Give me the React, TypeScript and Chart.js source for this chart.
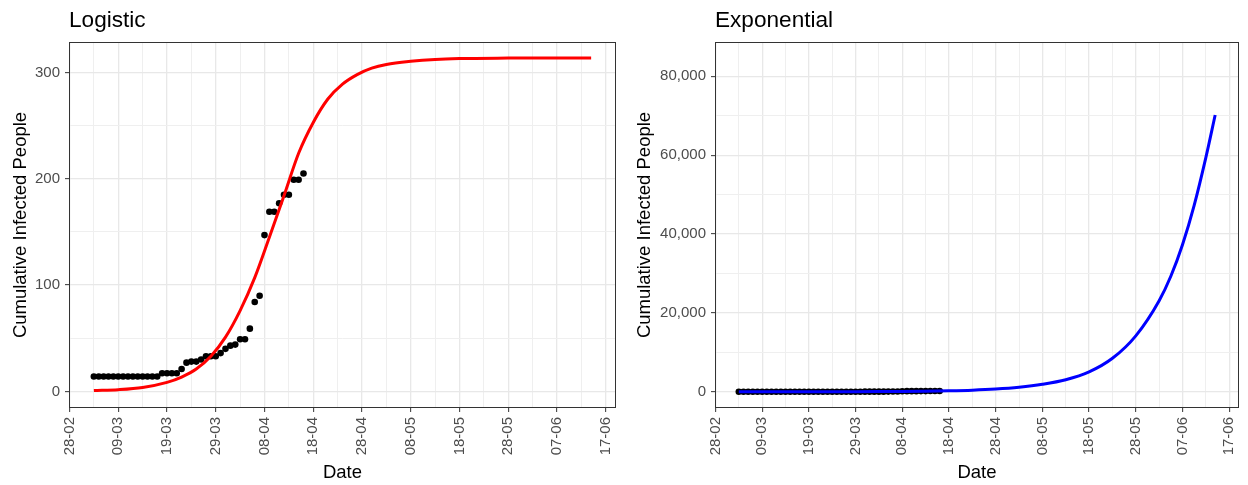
import React, { useEffect, useRef } from 'react';
import { Chart, registerables } from 'chart.js';

Chart.register(...registerables);

const FONT = "'Liberation Sans', Arial, sans-serif";

// x axis: days since 28-02-2020
const xMajorDays = [0, 10, 20, 30, 40, 50, 60, 70, 80, 90, 100, 110];
const xMinorDays = [5, 15, 25, 35, 45, 55, 65, 75, 85, 95, 105];
const xTickLabels = ['28-02', '09-03', '19-03', '29-03', '08-04', '18-04', '28-04', '08-05', '18-05', '28-05', '07-06', '17-06'];

// observed cumulative infected people (day index, value)
const obsDays = [5, 6, 7, 8, 9, 10, 11, 12, 13, 14, 15, 16, 17, 18, 19, 20, 21, 22, 23, 24, 25, 26, 27, 28, 29, 30, 31, 32, 33, 34, 35, 36, 37, 38, 39, 40, 41, 42, 43, 44, 45, 46, 47, 48];
const obsCases = [14, 14, 14, 14, 14, 14, 14, 14, 14, 14, 14, 14, 14, 14, 17, 17, 17, 17, 21, 27, 28, 28, 30, 33, 33, 33, 36, 40, 43, 44, 49, 49, 59, 84, 90, 147, 169, 169, 177, 185, 185, 199, 199, 205];

// logistic fit curve
const logisticDays = [5, 10, 15, 20, 23, 26, 29, 32, 35, 38, 41, 44, 47, 50, 53, 56, 59, 62, 65, 70, 75, 80, 90, 100, 107];
const logisticFit = [0.7, 1.6, 3.7, 8.5, 13.5, 21, 33, 51, 76, 107, 145, 184, 224, 253, 275, 289, 298, 304, 307.5, 310.5, 312.3, 313.1, 313.5, 313.6, 313.6];

// exponential fit curve
const expDays = [5, 10, 15, 20, 25, 30, 35, 40, 45, 50, 55, 60, 65, 70, 75, 80, 85, 90, 95, 97.5, 100, 102.5, 105, 107];
const expFit = [3, 5, 9, 14, 23, 37, 60, 98, 160, 260, 420, 700, 1160, 1900, 3050, 5050, 8500, 14200, 23100, 29300, 37300, 47300, 59400, 70200];

// y axes
const logisticYMajor = [0, 100, 200, 300];
const logisticYMinor = [50, 150, 250];
const expYMajor = [0, 20000, 40000, 60000, 80000];
const expYMinor = [10000, 30000, 50000, 70000];

function makeChart(
  canvas: HTMLCanvasElement,
  title: string,
  lineColor: string,
  lineDays: number[],
  lineValues: number[],
  yMajor: number[],
  yMinor: number[],
  yMin: number,
  yMax: number,
  yWidth: number,
  rightPad: number,
  yFormat: (v: number) => string
) {
  const xAll = [...xMajorDays, ...xMinorDays].sort((a, b) => a - b);
  const yAll = [...yMajor, ...yMinor].sort((a, b) => a - b);
  const isXMajor = (v: number) => xMajorDays.includes(v);
  const isYMajor = (v: number) => yMajor.includes(v);

  const ggPlugin = {
    id: 'ggDecor',
    afterDraw(chart: any) {
      const { ctx, chartArea } = chart;
      ctx.save();
      ctx.strokeStyle = '#333333';
      ctx.lineWidth = 1;
      ctx.strokeRect(chartArea.left + 0.5, chartArea.top + 0.5, chartArea.right - chartArea.left - 1, chartArea.bottom - chartArea.top - 1);
      ctx.font = `22.6px ${FONT}`;
      ctx.fillStyle = '#000000';
      ctx.textBaseline = 'alphabetic';
      ctx.textAlign = 'left';
      ctx.fillText(title, chartArea.left, 27);
      ctx.restore();
    },
  };

  return new Chart(canvas, {
    type: 'scatter',
    data: {
      datasets: [
        {
          type: 'line',
          data: lineDays.map((d, i) => ({ x: d, y: lineValues[i] })),
          borderColor: lineColor,
          backgroundColor: lineColor,
          borderWidth: 3,
          pointRadius: 0,
          cubicInterpolationMode: 'monotone',
          fill: false,
        } as any,
        {
          type: 'scatter',
          data: obsDays.map((d, i) => ({ x: d, y: obsCases[i] })),
          backgroundColor: '#000000',
          borderColor: '#000000',
          pointRadius: 3.3,
          pointBorderWidth: 0,
        } as any,
      ],
    },
    options: {
      animation: false,
      responsive: false,
      layout: { padding: { top: 42, left: 0, right: rightPad, bottom: 0 } },
      plugins: { legend: { display: false }, tooltip: { enabled: false }, title: { display: false } },
      scales: {
        x: {
          type: 'linear',
          min: -0.1,
          max: 112.1,
          afterBuildTicks: (s: any) => {
            s.ticks = xAll.map((v) => ({ value: v }));
          },
          afterFit: (s: any) => {
            s.height = 77;
            s.paddingLeft = 0;
            s.paddingRight = 0;
          },
          ticks: {
            autoSkip: false,
            minRotation: 90,
            maxRotation: 90,
            padding: 5,
            color: '#4D4D4D',
            font: { family: FONT, size: 15 },
            callback: (v: any) => {
              const i = xMajorDays.indexOf(Number(v));
              return i >= 0 ? xTickLabels[i] : '';
            },
          },
          grid: {
            color: (c: any) => (c.tick && isXMajor(c.tick.value) ? '#E8E8E8' : '#EFEFEF'),
            lineWidth: (c: any) => (c.tick && isXMajor(c.tick.value) ? 1.3 : 1),
            tickLength: 4,
            tickWidth: 1,
            tickColor: (c: any) => (c.tick && isXMajor(c.tick.value) ? '#333333' : 'rgba(0,0,0,0)'),
          },
          border: { display: false },
          title: {
            display: true,
            text: 'Date',
            color: '#000000',
            font: { family: FONT, size: 18.5 },
            padding: { top: 0, bottom: 1 },
          },
        },
        y: {
          type: 'linear',
          min: yMin,
          max: yMax,
          afterBuildTicks: (s: any) => {
            s.ticks = yAll.map((v) => ({ value: v }));
          },
          afterFit: (s: any) => {
            s.width = yWidth;
            s.paddingTop = 0;
            s.paddingBottom = 0;
          },
          ticks: {
            autoSkip: false,
            padding: 5,
            color: '#4D4D4D',
            font: { family: FONT, size: 15 },
            callback: (v: any) => (isYMajor(Number(v)) ? yFormat(Number(v)) : ''),
          },
          grid: {
            color: (c: any) => (c.tick && isYMajor(c.tick.value) ? '#E8E8E8' : '#EFEFEF'),
            lineWidth: (c: any) => (c.tick && isYMajor(c.tick.value) ? 1.3 : 1),
            tickLength: 4,
            tickWidth: 1,
            tickColor: (c: any) => (c.tick && isYMajor(c.tick.value) ? '#333333' : 'rgba(0,0,0,0)'),
          },
          border: { display: false },
          title: {
            display: true,
            text: 'Cumulative Infected People',
            color: '#000000',
            font: { family: FONT, size: 18.5 },
            padding: { top: 10, bottom: 0 },
          },
        },
      },
    } as any,
    plugins: [ggPlugin],
  });
}

export default function App() {
  const leftRef = useRef<HTMLCanvasElement>(null);
  const rightRef = useRef<HTMLCanvasElement>(null);

  useEffect(() => {
    const c1 = makeChart(
      leftRef.current!, 'Logistic', '#FF0000', logisticDays, logisticFit,
      logisticYMajor, logisticYMinor, -15.65, 328.65, 69, 8, (v) => String(v)
    );
    const c2 = makeChart(
      rightRef.current!, 'Exponential', '#0000FF', expDays, expFit,
      expYMajor, expYMinor, -4100, 88700, 91, 9, (v) => v.toLocaleString('en-US')
    );
    return () => {
      c1.destroy();
      c2.destroy();
    };
  }, []);

  return (
    <div style={{ position: 'absolute', left: 0, top: 0, width: 1248, height: 485, background: '#FFFFFF' }}>
      <canvas ref={leftRef} width={624} height={485} style={{ position: 'absolute', left: 0, top: 0 }} />
      <canvas ref={rightRef} width={624} height={485} style={{ position: 'absolute', left: 624, top: 0 }} />
    </div>
  );
}
